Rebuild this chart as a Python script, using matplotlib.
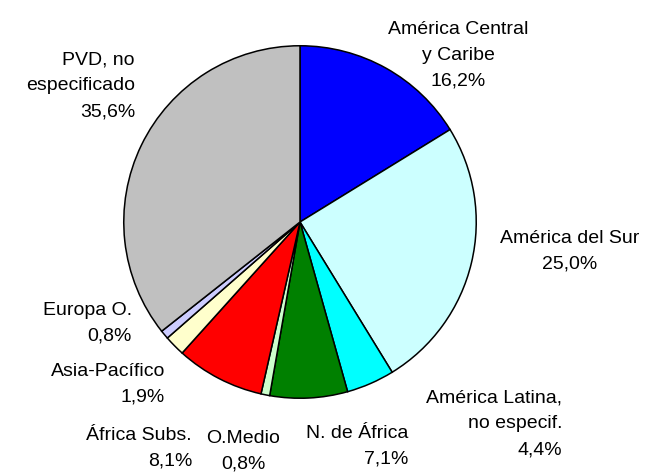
import matplotlib
matplotlib.use('Agg')
import matplotlib.pyplot as plt

# Datos del gráfico
regiones = ['América Central\ny Caribe', 'América del Sur', 'América Latina,\nno especif.',
            'N. de África', 'O.Medio', 'África Subs.', 'Asia-Pacífico', 'Europa O.',
            'PVD, no\nespecificado']
porcentajes = [16.2, 25.0, 4.4, 7.1, 0.8, 8.1, 1.9, 0.8, 35.6]
colores = ['#0000FF', '#CCFFFF', '#00FFFF', '#008000', '#CCFFCC', '#FF0000', '#FFFFCC',
           '#CCCCFF', '#C0C0C0']

# Posición de las etiquetas en píxeles (x, y desde arriba) y alineación
pos_etiquetas = [(458, 55, 'center'), (570, 251, 'center'), (562, 424, 'right'),
                 (408, 446, 'right'), (243, 451, 'center'), (192, 448, 'right'),
                 (165, 384, 'right'), (132, 323, 'right'), (135, 86, 'right')]

W, H = 650, 475
fig = plt.figure(figsize=(W / 100, H / 100), dpi=100)
cx, cy, r = 300, 222, 178
ax = fig.add_axes([(cx - r) / W, (H - cy - r) / H, 2 * r / W, 2 * r / H])

ax.pie(porcentajes, colors=colores, startangle=90, counterclock=False,
       wedgeprops={'edgecolor': 'black', 'linewidth': 1.1})
ax.set_xlim(-1.01, 1.01)
ax.set_ylim(-1.01, 1.01)
ax.axis('off')

for nombre, p, (x, y, al) in zip(regiones, porcentajes, pos_etiquetas):
    texto = nombre + '\n' + f'{p:.1f}'.replace('.', ',') + '%'
    fig.text(x / W, 1 - y / H, texto, ha=al, va='center', multialignment=al,
             fontsize=14, family='Liberation Sans', linespacing=1.68)

fig.savefig('out.png', dpi=100)
